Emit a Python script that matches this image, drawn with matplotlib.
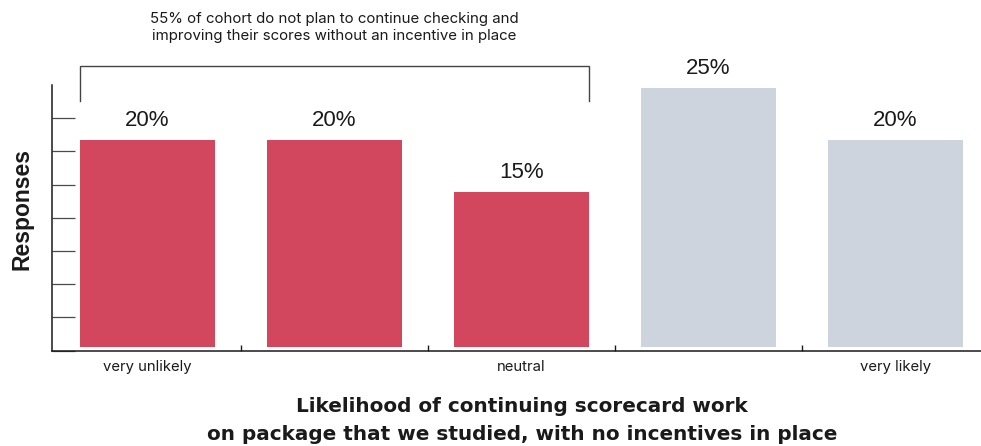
import matplotlib
matplotlib.use("Agg")
import matplotlib.pyplot as plt
from matplotlib.ticker import FixedLocator

# Survey results: likelihood of continuing scorecard work without incentives
categories = ["very unlikely", "unlikely", "neutral", "likely", "very likely"]
tick_labels = ["very unlikely", "", "neutral", "", "very likely"]
shares = [20, 20, 15, 25, 20]
highlight = [True, True, True, False, False]

annotation = ("55% of cohort do not plan to continue checking and\n"
              "improving their scores without an incentive in place")
x_title = ("Likelihood of continuing scorecard work\n"
           "on package that we studied, with no incentives in place")
y_title = "Responses"

RED = "#d2475d"
GREY = "#cdd4de"
INK = "#1a1a1a"

fig = plt.figure(figsize=(9.81, 4.46), dpi=100)
ax = fig.add_axes([51.7 / 981, 95.3 / 446, 1 - 51.7 / 981, 265.7 / 446])

x = list(range(len(categories)))
colors = [RED if h else GREY for h in highlight]
bar_w = 0.722
bars = ax.bar(x, shares, width=bar_w, color=colors, zorder=2)

for xi, v in zip(x, shares):
    ax.annotate(f"{v}%", (xi, v), xytext=(0, 6.2), textcoords="offset points",
                ha="center", va="bottom", fontsize=16,
                family="Liberation Sans", color=INK)

# axes range
ax.set_xlim(-0.512, 4.457)
ax.set_ylim(-0.33, 25.27)

for side in ["top", "right"]:
    ax.spines[side].set_visible(False)
for side in ["left", "bottom"]:
    ax.spines[side].set_color(INK)
    ax.spines[side].set_linewidth(1.1)

# y ticks without labels, pointing inward
ax.yaxis.set_major_locator(FixedLocator([-0.33 + 3.2 * k for k in range(8)]))
ax.set_yticklabels([])
ax.tick_params(axis="y", direction="in", length=16.5, width=0.9, color="#4a4a4a")

# x: boundary ticks plus category labels
ax.xaxis.set_major_locator(FixedLocator([0.5, 1.5, 2.5, 3.5]))
ax.set_xticklabels([])
ax.tick_params(axis="x", which="major", direction="in", length=4.5, width=1.0, color=INK)
ax.set_xticks(x, labels=tick_labels, minor=True)
ax.tick_params(axis="x", which="minor", length=0, pad=7, labelsize=10.7, labelcolor=INK)
for lbl in ax.get_xticklabels(minor=True):
    lbl.set_family("Inter")

ax.set_ylabel(y_title, fontsize=16.5, fontweight="bold", family="Liberation Sans",
              color=INK, va="center")
ax.yaxis.set_label_coords(-0.032, 0.533)

ax.text(0.506, -0.263, x_title, transform=ax.transAxes, ha="center", va="center",
        fontsize=14.4, fontweight="bold", family="DejaVu Sans", color=INK,
        linespacing=1.55)

# bracket over the first three bars
left = 0 - bar_w / 2
right = 2 + bar_w / 2
ax.plot([left, left, right, right], [23.73, 27.12, 27.12, 23.73],
        color="#444444", lw=1.0, clip_on=False, solid_joinstyle="miter")
ax.text(1.0, 30.8, annotation, ha="center", va="center", fontsize=10.8,
        family="Inter", color=INK, linespacing=1.25, clip_on=False)

fig.savefig("out.png", dpi=100)
